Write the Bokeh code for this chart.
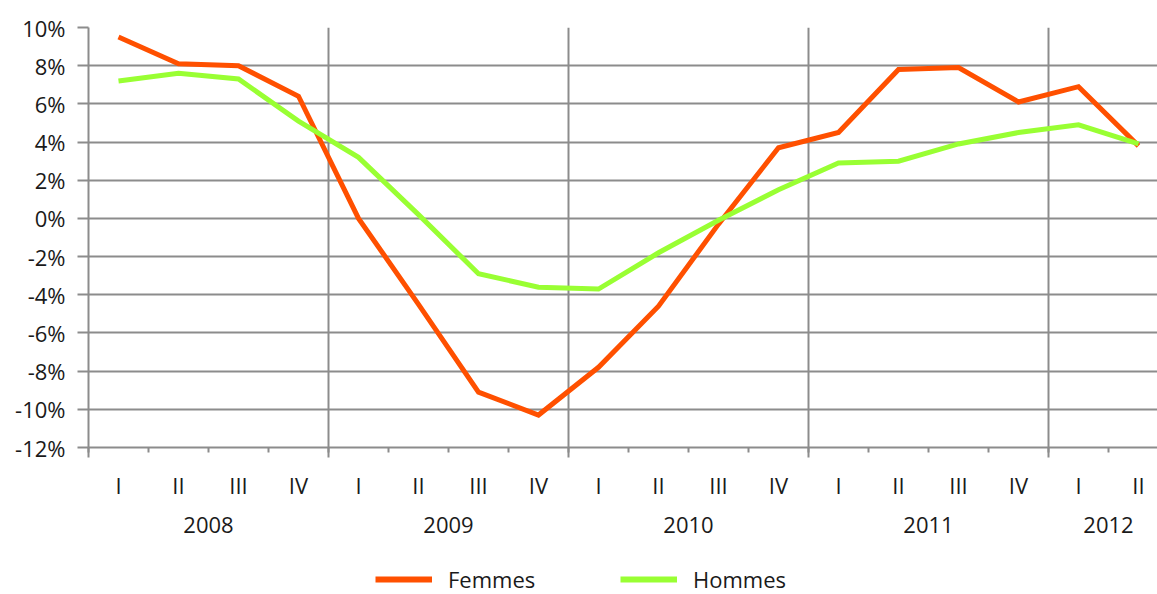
from bokeh.plotting import figure
from bokeh.layouts import column
from bokeh.models import (LinearAxis, FixedTicker, Grid, Range1d, Legend, LegendItem,
                          ColumnDataSource)
from bokeh.embed import file_html
from bokeh.resources import INLINE

# ---- data ----
years = ["2008", "2009", "2010", "2011", "2012"]
quarters = ["I", "II", "III", "IV", "I", "II", "III", "IV", "I", "II", "III", "IV",
            "I", "II", "III", "IV", "I", "II"]
femmes = [9.5, 8.1, 8.0, 6.4, 0.0, -4.5, -9.1, -10.3, -7.8, -4.6, -0.3, 3.7,
          4.5, 7.8, 7.9, 6.1, 6.9, 3.8]
hommes = [7.2, 7.6, 7.3, 5.1, 3.2, 0.2, -2.9, -3.6, -3.7, -1.8, -0.1, 1.5,
          2.9, 3.0, 3.9, 4.5, 4.9, 3.9]
y_ticks = [-12, -10, -8, -6, -4, -2, 0, 2, 4, 6, 8, 10]

FONT = "Open Sans"
FS = "22px"
GRID = "#8c8c8c"
TXT = "#1a1a1a"
C_F = "#ff5000"
C_H = "#99ff33"

xpos = [i + 0.5 for i in range(len(quarters))]
src = ColumnDataSource(dict(x=xpos, f=femmes, h=hommes))

FW = 1069
p = figure(frame_width=FW, frame_height=420, output_backend="svg", toolbar_location=None,
           x_axis_location=None, y_axis_location=None,
           x_range=Range1d(0, FW / 60), y_range=Range1d(-12, 10),
           min_border_left=88, min_border_right=0, min_border_top=27,
           min_border_bottom=100, outline_line_color=None)
p.xgrid.visible = False
p.ygrid.visible = False

year_bounds = [0, 4, 8, 12, 16]
tickA = FixedTicker(ticks=year_bounds, minor_ticks=list(range(len(quarters) + 1)))
yt = FixedTicker(ticks=y_ticks, minor_ticks=[])

yax = LinearAxis(ticker=yt, major_label_overrides={v: f"{v}%" for v in y_ticks},
                 axis_line_color=GRID, axis_line_width=2,
                 major_tick_line_color=GRID, major_tick_line_width=2,
                 major_tick_out=11, major_tick_in=0, minor_tick_out=0,
                 major_label_standoff=12,
                 major_label_text_font=FONT, major_label_text_font_size=FS,
                 major_label_text_color=TXT)
p.add_layout(yax, "left")

# tick marks along the x axis (year boundaries long, quarter boundaries short)
axA = LinearAxis(ticker=tickA, major_label_overrides={v: "" for v in year_bounds},
                 axis_line_color=GRID, axis_line_width=2,
                 major_tick_line_color=GRID, major_tick_line_width=2,
                 minor_tick_line_color=GRID, minor_tick_line_width=2,
                 major_tick_out=10, major_tick_in=0, minor_tick_out=5, minor_tick_in=0,
                 major_label_standoff=0, major_label_text_font_size="1px")
p.add_layout(axA, "below")

# quarter labels
axB = LinearAxis(ticker=FixedTicker(ticks=xpos, minor_ticks=[]),
                 major_label_overrides={x: q for x, q in zip(xpos, quarters)},
                 axis_line_color=None, major_tick_line_color=None,
                 minor_tick_line_color=None, major_tick_out=0, major_tick_in=0,
                 major_label_standoff=12,
                 major_label_text_font=FONT, major_label_text_font_size=FS,
                 major_label_text_color=TXT)
p.add_layout(axB, "below")

# year labels
year_centers = [2, 6, 10, 14, 17]
axC = LinearAxis(ticker=FixedTicker(ticks=year_centers, minor_ticks=[]),
                 major_label_overrides={x: y for x, y in zip(year_centers, years)},
                 axis_line_color=None, major_tick_line_color=None,
                 minor_tick_line_color=None, major_tick_out=0, major_tick_in=0,
                 major_label_standoff=14,
                 major_label_text_font=FONT, major_label_text_font_size=FS,
                 major_label_text_color=TXT)
p.add_layout(axC, "below")

p.add_layout(Grid(dimension=0, ticker=tickA, grid_line_color=GRID, grid_line_width=2))
p.add_layout(Grid(dimension=1, ticker=yt, grid_line_color=GRID, grid_line_width=2))

p.line("x", "f", source=src, line_color=C_F, line_width=5, line_join="miter")
p.line("x", "h", source=src, line_color=C_H, line_width=5, line_join="miter")

# legend strip below the chart (its lines use the same data, kept out of view)
lf = figure(width=1157, height=47, output_backend="svg", toolbar_location=None,
            x_axis_location=None, y_axis_location=None, outline_line_color=None,
            min_border_left=0, min_border_right=0, min_border_top=0, min_border_bottom=0,
            x_range=Range1d(0, 1), y_range=Range1d(1000, 1001))
lf.xgrid.visible = False
lf.ygrid.visible = False
lr_f = lf.line("x", "f", source=src, line_color=C_F, line_width=6)
lr_h = lf.line("x", "h", source=src, line_color=C_H, line_width=6)
leg = Legend(items=[LegendItem(label="Femmes", renderers=[lr_f]),
                    LegendItem(label="Hommes", renderers=[lr_h])],
             orientation="horizontal", location=(287, 0),
             border_line_color=None, background_fill_alpha=0,
             glyph_width=57, glyph_height=22, label_standoff=16,
             label_width=162, label_height=22, spacing=10, padding=0, margin=0,
             label_text_font=FONT, label_text_font_size=FS,
             label_text_color=TXT)
lf.add_layout(leg, "center")

layout = column(p, lf, spacing=0)
open("out.html", "w").write(file_html(layout, INLINE))
